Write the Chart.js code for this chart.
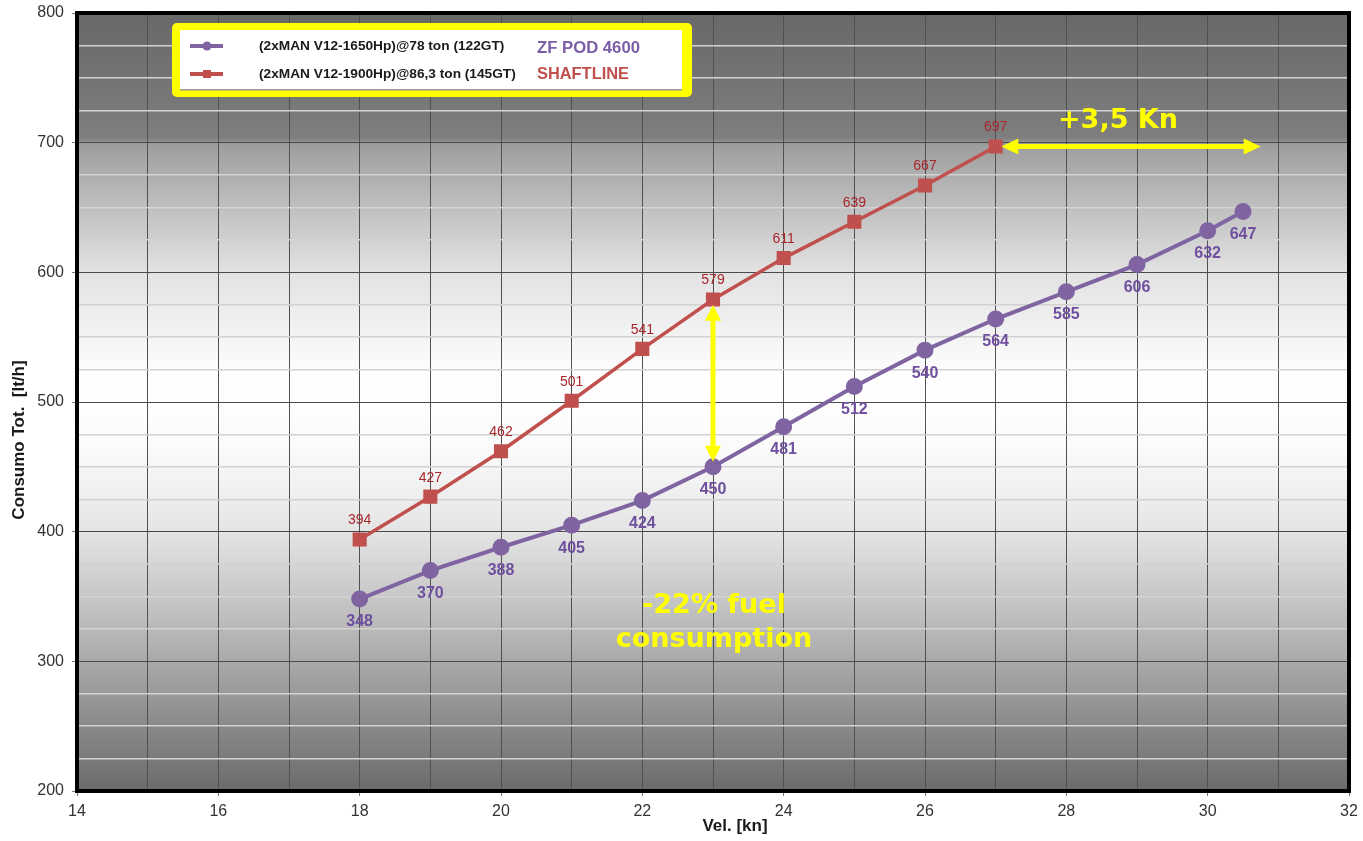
<!DOCTYPE html>
<html>
<head>
<meta charset="utf-8">
<title>Consumo Tot. vs Vel.</title>
<script src="https://cdn.jsdelivr.net/npm/chart.js@4.4.1/dist/chart.umd.min.js"></script>
<style>
  html, body { margin: 0; padding: 0; background: #fff; }
  #wrap { width: 1363px; height: 841px; position: relative; }
</style>
</head>
<body>
<div id="wrap"><canvas id="fuelChart"></canvas></div>
<script>
// ZF POD 4600 vs Shaftline - fuel consumption by speed

const podSpeed   = [18, 19, 20, 21, 22, 23, 24, 25, 26, 27, 28, 29, 30, 30.5];
const podFuel    = [348, 370, 388, 405, 424, 450, 481, 512, 540, 564, 585, 606, 632, 647];
const shaftSpeed = [18, 19, 20, 21, 22, 23, 24, 25, 26, 27];
const shaftFuel  = [394, 427, 462, 501, 541, 579, 611, 639, 667, 697];

const podName   = "(2xMAN V12-1650Hp)@78 ton (122GT)";
const shaftName = "(2xMAN V12-1900Hp)@86,3 ton (145GT)";
const podTag    = "ZF POD 4600";
const shaftTag  = "SHAFTLINE";

const xMin = 14, xMax = 32, xStep = 1;
const yMin = 200, yMax = 800, yStep = 25;

// annotations (data coordinates)
const gapArrow   = { x: 23, from: 575, to: 454 };
const speedArrow = { y: 697, from: 27.08, to: 30.75 };
const speedText  = "+3,5 Kn";
const gapText    = ["-22% fuel", "consumption"];

const PURPLE = "#8064a2";
const RED    = "#c0504d";
const YELLOW = "#ffff00";

function pts(xs, ys) {
    return xs.map(function (x, i) { return { x: x, y: ys[i] }; });
}

// background gradient of the plot area
const bgPlugin = {
    id: "plotBg",
    beforeDraw: function (chart) {
        const a = chart.chartArea, c = chart.ctx;
        const g = c.createLinearGradient(0, a.top, 0, a.bottom);
        g.addColorStop(0.00, "#686868");
        g.addColorStop(0.160, "#7e7e7e");
        g.addColorStop(0.170, "#9e9e9e");
        g.addColorStop(0.333, "#e2e2e2");
        g.addColorStop(0.47, "#ffffff");
        g.addColorStop(0.56, "#fbfbfb");
        g.addColorStop(0.667, "#e4e4e4");
        g.addColorStop(0.833, "#aaaaaa");
        g.addColorStop(1.00, "#6a6a6a");
        c.save();
        c.fillStyle = g;
        c.fillRect(a.left, a.top, a.right - a.left, a.bottom - a.top);
        c.restore();
    }
};

function arrowHead(c, x, y, dx, dy, len, half) {
    // tip at (x,y), pointing in direction (dx,dy)
    c.beginPath();
    c.moveTo(x, y);
    c.lineTo(x - dx * len - dy * half, y - dy * len + dx * half);
    c.lineTo(x - dx * len + dy * half, y - dy * len - dx * half);
    c.closePath();
    c.fill();
}

// labels, arrows, legend box, frame, axis titles
const overlayPlugin = {
    id: "overlay",
    afterDatasetsDraw: function (chart) {
        const c = chart.ctx, xs = chart.scales.x, ys = chart.scales.y, a = chart.chartArea;
        c.save();

        // point labels
        c.textAlign = "center";
        c.textBaseline = "middle";
        const podMeta = chart.getDatasetMeta(0);
        c.font = "bold 16px 'Liberation Sans', Arial, sans-serif";
        c.fillStyle = "#6f4f9e";
        podMeta.data.forEach(function (p, i) { c.fillText(String(podFuel[i]), p.x, p.y + 23); });
        const shaftMeta = chart.getDatasetMeta(1);
        c.font = "14px 'Liberation Sans', Arial, sans-serif";
        c.fillStyle = "#a8262c";
        shaftMeta.data.forEach(function (p, i) { c.fillText(String(shaftFuel[i]), p.x, p.y - 19); });

        // yellow arrows
        c.strokeStyle = YELLOW;
        c.fillStyle = YELLOW;
        c.lineWidth = 5;
        var ax = xs.getPixelForValue(gapArrow.x);
        var y1 = ys.getPixelForValue(gapArrow.from), y2 = ys.getPixelForValue(gapArrow.to);
        c.beginPath(); c.moveTo(ax, y1 + 12); c.lineTo(ax, y2 - 12); c.stroke();
        arrowHead(c, ax, y1, 0, -1, 16, 8);
        arrowHead(c, ax, y2, 0, 1, 16, 8);

        var ay = ys.getPixelForValue(speedArrow.y);
        var x1 = xs.getPixelForValue(speedArrow.from), x2 = xs.getPixelForValue(speedArrow.to);
        c.beginPath(); c.moveTo(x1 + 12, ay); c.lineTo(x2 - 12, ay); c.stroke();
        arrowHead(c, x1, ay, -1, 0, 17, 8);
        arrowHead(c, x2, ay, 1, 0, 17, 8);

        c.font = "bold 27px 'DejaVu Sans', Verdana, sans-serif";
        c.textBaseline = "alphabetic";
        c.fillText(speedText, (x1 + x2) / 2 - 13, ay - 19);
        c.fillText(gapText[0], ax + 1, 613);
        c.fillText(gapText[1], ax + 1, 647);

        // frame
        c.strokeStyle = "#000";
        c.lineWidth = 4;
        c.strokeRect(a.left, a.top, a.right - a.left, a.bottom - a.top);

        // legend box
        c.fillStyle = YELLOW;
        c.beginPath();
        c.roundRect(172, 23, 520, 74, 5);
        c.fill();
        c.fillStyle = "#ffffff";
        c.fillRect(180, 30, 502, 60);
        c.fillStyle = "#9a9a9a";
        c.fillRect(180, 89, 502, 1.5);

        // legend rows
        c.lineWidth = 4;
        c.strokeStyle = PURPLE; c.fillStyle = PURPLE;
        c.beginPath(); c.moveTo(190, 46); c.lineTo(223, 46); c.stroke();
        c.beginPath(); c.arc(207, 46, 4.5, 0, Math.PI * 2); c.fill();
        c.strokeStyle = RED; c.fillStyle = RED;
        c.beginPath(); c.moveTo(190, 74); c.lineTo(223, 74); c.stroke();
        c.fillRect(203, 70, 8, 8);

        c.textAlign = "left";
        c.textBaseline = "middle";
        c.fillStyle = "#1a1a1a";
        c.font = "bold 13.7px 'Liberation Sans', Arial, sans-serif";
        c.fillText(podName, 259, 46);
        c.fillText(shaftName, 259, 74);
        c.font = "bold 16.7px 'Liberation Sans', Arial, sans-serif";
        c.fillStyle = "#7b5ea8";
        c.fillText(podTag, 537, 48);
        c.fillStyle = "#c0504d";
        c.font = "bold 16.4px 'Liberation Sans', Arial, sans-serif";
        c.fillText(shaftTag, 537, 74);

        // axis titles
        c.fillStyle = "#1a1a1a";
        c.font = "bold 17px 'Liberation Sans', Arial, sans-serif";
        c.textAlign = "center";
        c.fillText("Vel. [kn]", 735, 826);
        c.translate(19, 440);
        c.rotate(-Math.PI / 2);
        c.fillText("Consumo Tot.  [lt/h]", 0, 0);

        c.restore();
    }
};

new Chart(document.getElementById("fuelChart"), {
    type: "line",
    data: {
        datasets: [
            {
                label: podName,
                data: pts(podSpeed, podFuel),
                borderColor: PURPLE,
                backgroundColor: PURPLE,
                borderWidth: 4,
                pointStyle: "circle",
                pointRadius: 6.5,
                pointHoverRadius: 6.5
            },
            {
                label: shaftName,
                data: pts(shaftSpeed, shaftFuel),
                borderColor: RED,
                backgroundColor: RED,
                borderWidth: 3.5,
                pointStyle: "rect",
                pointRadius: 7.5,
                pointHoverRadius: 7.5
            }
        ]
    },
    options: {
        responsive: true,
        maintainAspectRatio: false,
        animation: false,
        layout: { padding: { top: 13, right: 14, left: 0, bottom: 0 } },
        plugins: { legend: { display: false }, tooltip: { enabled: false } },
        scales: {
            x: {
                type: "linear",
                min: xMin, max: xMax,
                afterFit: function (s) { s.height = 50; s.paddingLeft = 0; s.paddingRight = 0; },
                border: { display: false },
                grid: {
                    color: "#505050",
                    lineWidth: 1,
                    tickLength: 5,
                    tickColor: function (ctx) { return ctx.tick && ctx.tick.value % 2 === 0 ? "#777" : "rgba(0,0,0,0)"; }
                },
                ticks: {
                    stepSize: xStep,
                    autoSkip: false,
                    maxRotation: 0,
                    padding: 6,
                    color: "#333",
                    font: { family: "'Liberation Sans', Arial, sans-serif", size: 16 },
                    callback: function (v) { return v % 2 === 0 ? v : ""; }
                }
            },
            y: {
                min: yMin, max: yMax,
                afterFit: function (s) { s.width = 77; s.paddingTop = 0; s.paddingBottom = 0; },
                border: { display: false },
                grid: {
                    color: function (ctx) { return ctx.tick && ctx.tick.value % 100 === 0 ? "#4a4a4a" : "#d2d2d2"; },
                    lineWidth: function (ctx) { return ctx.tick && ctx.tick.value % 100 === 0 ? 1 : 1.5; },
                    tickLength: 5,
                    tickColor: function (ctx) { return ctx.tick && ctx.tick.value % 100 === 0 ? "#777" : "rgba(0,0,0,0)"; }
                },
                ticks: {
                    stepSize: yStep,
                    autoSkip: false,
                    padding: 8,
                    color: "#333",
                    font: { family: "'Liberation Sans', Arial, sans-serif", size: 16 },
                    callback: function (v) { return v % 100 === 0 ? v : ""; }
                }
            }
        }
    },
    plugins: [bgPlugin, overlayPlugin]
});
</script>
</body>
</html>
